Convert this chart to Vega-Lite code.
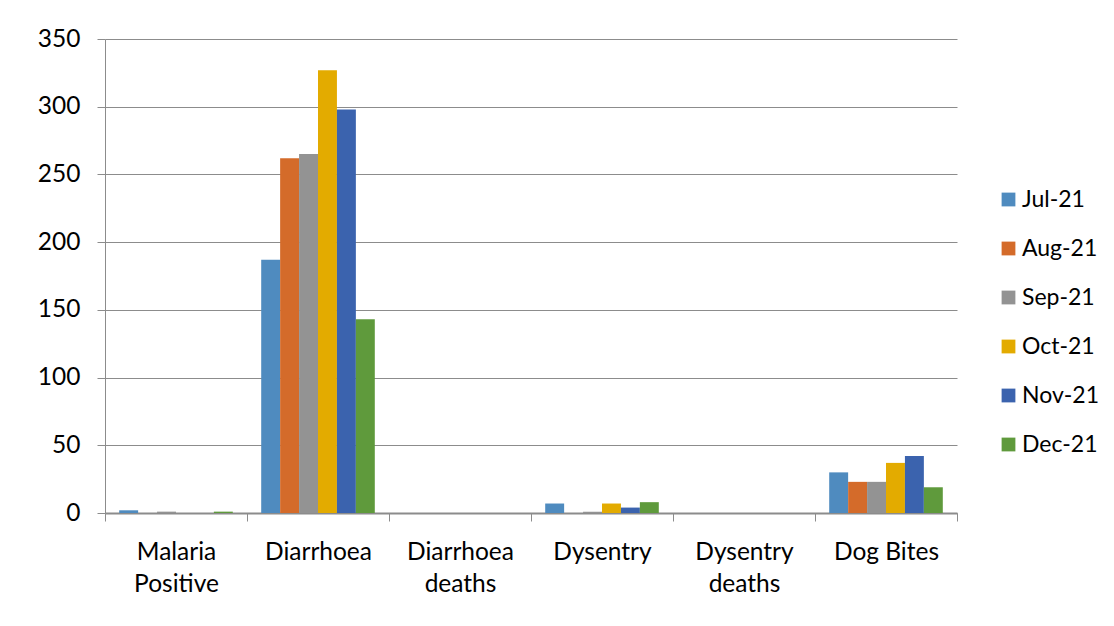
{
  "$schema": "https://vega.github.io/schema/vega-lite/v6.json",
  "width": 852,
  "height": 474,
  "autosize": "none",
  "padding": {"left": 105, "top": 39, "right": 157, "bottom": 113},
  "background": "white",
  "data": {
    "values": [
      {"category": "Malaria|Positive", "month": "Jul-21", "value": 2},
      {"category": "Malaria|Positive", "month": "Aug-21", "value": 0},
      {"category": "Malaria|Positive", "month": "Sep-21", "value": 1},
      {"category": "Malaria|Positive", "month": "Oct-21", "value": 0},
      {"category": "Malaria|Positive", "month": "Nov-21", "value": 0},
      {"category": "Malaria|Positive", "month": "Dec-21", "value": 1},
      {"category": "Diarrhoea", "month": "Jul-21", "value": 187},
      {"category": "Diarrhoea", "month": "Aug-21", "value": 262},
      {"category": "Diarrhoea", "month": "Sep-21", "value": 265},
      {"category": "Diarrhoea", "month": "Oct-21", "value": 327},
      {"category": "Diarrhoea", "month": "Nov-21", "value": 298},
      {"category": "Diarrhoea", "month": "Dec-21", "value": 143},
      {"category": "Diarrhoea|deaths", "month": "Jul-21", "value": 0},
      {"category": "Diarrhoea|deaths", "month": "Aug-21", "value": 0},
      {"category": "Diarrhoea|deaths", "month": "Sep-21", "value": 0},
      {"category": "Diarrhoea|deaths", "month": "Oct-21", "value": 0},
      {"category": "Diarrhoea|deaths", "month": "Nov-21", "value": 0},
      {"category": "Diarrhoea|deaths", "month": "Dec-21", "value": 0},
      {"category": "Dysentry", "month": "Jul-21", "value": 7},
      {"category": "Dysentry", "month": "Aug-21", "value": 0},
      {"category": "Dysentry", "month": "Sep-21", "value": 1},
      {"category": "Dysentry", "month": "Oct-21", "value": 7},
      {"category": "Dysentry", "month": "Nov-21", "value": 4},
      {"category": "Dysentry", "month": "Dec-21", "value": 8},
      {"category": "Dysentry|deaths", "month": "Jul-21", "value": 0},
      {"category": "Dysentry|deaths", "month": "Aug-21", "value": 0},
      {"category": "Dysentry|deaths", "month": "Sep-21", "value": 0},
      {"category": "Dysentry|deaths", "month": "Oct-21", "value": 0},
      {"category": "Dysentry|deaths", "month": "Nov-21", "value": 0},
      {"category": "Dysentry|deaths", "month": "Dec-21", "value": 0},
      {"category": "Dog Bites", "month": "Jul-21", "value": 30},
      {"category": "Dog Bites", "month": "Aug-21", "value": 23},
      {"category": "Dog Bites", "month": "Sep-21", "value": 23},
      {"category": "Dog Bites", "month": "Oct-21", "value": 37},
      {"category": "Dog Bites", "month": "Nov-21", "value": 42},
      {"category": "Dog Bites", "month": "Dec-21", "value": 19}
    ]
  },
  "mark": {"type": "bar"},
  "encoding": {
    "x": {
      "field": "category",
      "type": "nominal",
      "sort": null,
      "scale": {"paddingInner": 0, "paddingOuter": 0},
      "axis": {
        "title": null,
        "labelAngle": 0,
        "labelExpr": "split(datum.label, '|')",
        "labelFont": "Lato",
        "labelFontSize": 24.5,
        "labelColor": "#000000",
        "labelLineHeight": 32,
        "labelPadding": 19,
        "tickBand": "extent",
        "tickSize": 8,
        "tickColor": "#8c8c8c",
        "domainColor": "#8c8c8c",
        "domainWidth": 2,
        "grid": false
      }
    },
    "xOffset": {
      "field": "month",
      "type": "nominal",
      "sort": null,
      "scale": {"paddingInner": 0, "paddingOuter": 0.75}
    },
    "y": {
      "field": "value",
      "type": "quantitative",
      "scale": {"domain": [0, 350], "nice": false},
      "axis": {
        "title": null,
        "values": [0, 50, 100, 150, 200, 250, 300, 350],
        "labelFont": "Lato",
        "labelFontSize": 24.5,
        "labelColor": "#000000",
        "labelPadding": 17,
        "tickSize": 8,
        "tickColor": "#8c8c8c",
        "domainColor": "#8c8c8c",
        "gridColor": "#8c8c8c",
        "gridWidth": 1
      }
    },
    "color": {
      "field": "month",
      "type": "nominal",
      "sort": null,
      "scale": {
        "domain": ["Jul-21", "Aug-21", "Sep-21", "Oct-21", "Nov-21", "Dec-21"],
        "range": ["#4f8bbf", "#d46b2a", "#939393", "#e3ab00", "#3b63ae", "#5f9a3c"]
      },
      "legend": {
        "title": null,
        "orient": "none",
        "legendX": 892,
        "legendY": 149,
        "symbolType": "square",
        "symbolSize": 190,
        "symbolStrokeWidth": 0,
        "labelFont": "Lato",
        "labelFontSize": 23,
        "labelColor": "#000000",
        "labelOffset": 2,
        "rowPadding": 25
      }
    }
  },
  "config": {
    "view": {"stroke": null},
    "axis": {"domainCap": "butt"}
  }
}
